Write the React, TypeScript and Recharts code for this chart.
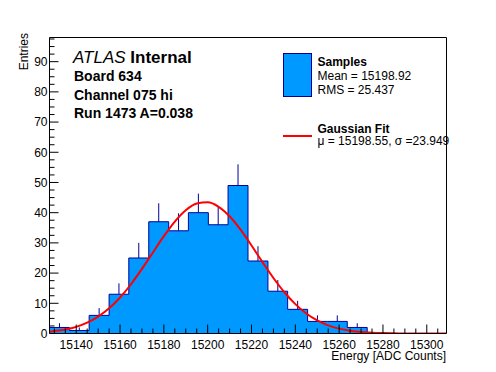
import { ComposedChart, Area, Line, XAxis, YAxis, ReferenceLine } from 'recharts'

// histogram: bin edges (ADC counts), entries per bin, upper error length
const BIN_EDGES = [
  15127.8, 15136.9, 15145.9, 15155.0, 15164.0, 15173.1, 15182.2, 15191.2, 15200.3, 15209.3, 15218.4,
  15227.5, 15236.5, 15245.6, 15254.6, 15263.7, 15272.8, 15281.8, 15290.9, 15299.9, 15309.0,
]
const COUNTS = [2, 1, 6, 13, 25, 37, 34, 40, 36, 49, 24, 14, 8, 4, 4, 2, 0, 0, 0, 0]
const ERR_UP = [1.4, 1, 2.4, 3.6, 5, 6.1, 5.8, 6.3, 6, 7, 4.9, 3.7, 2.8, 2, 2, 1.4, 0, 0, 0, 0]

// gaussian fit curve
const FIT_X = [
  15128, 15135, 15140, 15145, 15150, 15155, 15160, 15165, 15170, 15175, 15180, 15185, 15190, 15195,
  15200, 15205, 15210, 15215, 15220, 15225, 15230, 15235, 15240, 15245, 15250, 15255, 15260, 15265,
  15270, 15275, 15280, 15285, 15290, 15295, 15300, 15309,
]
const FIT_Y = [
  0.57, 1.29, 2.19, 3.57, 5.57, 8.33, 11.91, 16.31, 21.38, 26.83, 32.23, 37.07, 40.82, 43.03,
  43.42, 41.95, 38.8, 34.36, 29.13, 23.64, 18.37, 13.66, 9.73, 6.63, 4.33, 2.71, 1.62, 0.93,
  0.51, 0.27, 0.13, 0.06, 0.03, 0.01, 0, 0,
]

const Y_MAX = 98
const X_MIN = BIN_EDGES[0]
const X_MAX = BIN_EDGES[BIN_EDGES.length - 1]

const FILL = '#0099ff'
const EDGE = '#000099'
const FIT = '#ff0000'
const FONT = '"Liberation Sans", Arial, Helvetica, sans-serif'

function steps(from: number, to: number, step: number) {
  const out: number[] = []
  for (let v = from; v <= to + 1e-9; v += step) out.push(v)
  return out
}
const X_TICKS = steps(15130, 15305, 5)
const Y_TICKS = steps(0, 97.5, 2.5)

const rows = [
  ...BIN_EDGES.map((x, i) => ({ x, hist: i < COUNTS.length ? COUNTS[i] : 0 })),
  ...FIT_X.map((x, i) => ({ x, fit: FIT_Y[i] })),
].sort((a, b) => a.x - b.x)

function XTick({ x, y, payload }: any) {
  const major = payload.value % 20 === 0
  return (
    <g>
      <line x1={x} x2={x} y1={y} y2={y - (major ? 9 : 5)} stroke="#000" />
      {major && (
        <text x={x} y={y + 15} textAnchor="middle" fontSize={12} fontFamily={FONT} fill="#000">
          {payload.value}
        </text>
      )}
    </g>
  )
}

function YTick({ x, y, payload }: any) {
  const major = payload.value % 10 === 0
  return (
    <g>
      <line x1={x} x2={x + (major ? 9 : 5)} y1={y} y2={y} stroke="#000" />
      {major && (
        <text x={x - 2} y={y + 4.3} textAnchor="end" fontSize={12} fontFamily={FONT} fill="#000">
          {payload.value}
        </text>
      )}
    </g>
  )
}

export default function App() {
  return (
    <div style={{ position: 'relative', width: 496, height: 372, background: '#fff' }}>
      <style>{'body{margin:0}'}</style>
      <ComposedChart width={496} height={372} data={rows} margin={{ top: 37.5, right: 49.5, bottom: 0, left: 0 }}>
        <XAxis
          dataKey="x"
          type="number"
          domain={[X_MIN, X_MAX]}
          allowDataOverflow
          ticks={X_TICKS}
          interval={0}
          tickSize={0}
          tickMargin={0}
          tickLine={false}
          tick={XTick}
          height={38.5}
          axisLine={{ stroke: '#000' }}
        />
        <YAxis
          type="number"
          domain={[0, Y_MAX]}
          allowDataOverflow
          ticks={Y_TICKS}
          interval={0}
          tickSize={0}
          tickMargin={0}
          tickLine={false}
          tick={YTick}
          width={49.5}
          axisLine={{ stroke: '#000' }}
        />
        <Area
          dataKey="hist"
          type="stepAfter"
          connectNulls
          fill={FILL}
          fillOpacity={1}
          stroke={EDGE}
          strokeWidth={1}
          dot={false}
          activeDot={false}
          isAnimationActive={false}
        />
        {COUNTS.map((c, i) =>
          c > 0 ? (
            <ReferenceLine
              key={i}
              segment={[
                { x: (BIN_EDGES[i] + BIN_EDGES[i + 1]) / 2, y: c },
                { x: (BIN_EDGES[i] + BIN_EDGES[i + 1]) / 2, y: c + ERR_UP[i] },
              ]}
              stroke={EDGE}
              strokeWidth={1}
            />
          ) : null
        )}
        <Line
          dataKey="fit"
          type="monotone"
          connectNulls
          stroke={FIT}
          strokeWidth={2}
          dot={false}
          activeDot={false}
          isAnimationActive={false}
        />
        <ReferenceLine y={Y_MAX} stroke="#000" />
        <ReferenceLine x={X_MAX} stroke="#000" />
      </ComposedChart>

      <svg width={496} height={372} style={{ position: 'absolute', left: 0, top: 0, pointerEvents: 'none' }} fontFamily={FONT}>
        <text x={28} y={33} transform="rotate(-90 28 33)" textAnchor="end" fontSize={12}>Entries</text>
        <text x={446} y={359.5} textAnchor="end" fontSize={12}>Energy [ADC Counts]</text>

        <text x={73} y={63.3} fontSize={17}>
          <tspan fontStyle="italic">ATLAS</tspan>
          <tspan fontWeight="bold"> Internal</tspan>
        </text>
        <text x={74} y={80.7} fontSize={14} fontWeight="bold">Board 634</text>
        <text x={74} y={100} fontSize={14} fontWeight="bold">Channel 075 hi</text>
        <text x={74} y={118.3} fontSize={14} fontWeight="bold">Run 1473 A=0.038</text>

        <rect x={283.5} y={53.5} width={28} height={43} fill={FILL} stroke={EDGE} />
        <text x={317.5} y={65.5} fontSize={12} fontWeight="bold">Samples</text>
        <text x={317.5} y={80} fontSize={12}>Mean = 15198.92</text>
        <text x={317.5} y={94} fontSize={12}>RMS = 25.437</text>

        <line x1={283} x2={312} y1={136} y2={136} stroke={FIT} strokeWidth={2} />
        <text x={317.5} y={133.3} fontSize={12} fontWeight="bold">Gaussian Fit</text>
        <text x={317.5} y={145} fontSize={12}>μ = 15198.55, σ =23.949</text>
      </svg>
    </div>
  )
}
